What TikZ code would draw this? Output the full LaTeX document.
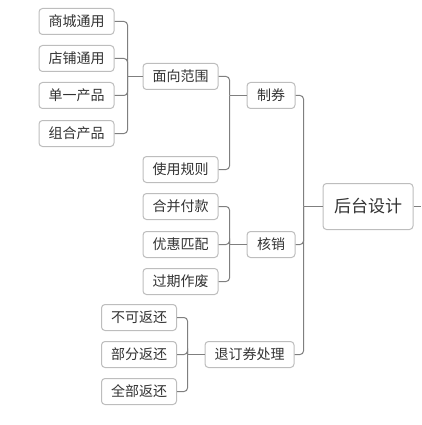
\documentclass[tikz,border=0pt]{standalone}
\usepackage{fontspec}
\setmainfont{Noto Sans CJK SC}
\begin{document}
\begin{tikzpicture}[x=1pt,y=-1pt,
  box/.style={draw=boxgray,line width=1pt,rounded corners=3.5pt,fill=white,text=txt,
    inner sep=0pt,minimum height=26pt,font=\fontsize{14}{15}\selectfont},
  w4/.style={minimum width=75pt},
  conn/.style={draw=linegray,line width=1pt,rounded corners=3.5pt}]
\definecolor{boxgray}{HTML}{BDBDBD}
\definecolor{linegray}{HTML}{7F7F7F}
\definecolor{txt}{HTML}{333333}
\useasboundingbox (0,0) rectangle (421,425);
% nodes
\node[box,w4] (a1) at (76.5,21.5) {商城通用};
\node[box,w4] (a2) at (76.5,58.5) {店铺通用};
\node[box,w4] (a3) at (76.5,95.5) {单一产品};
\node[box,w4] (a4) at (76.5,133.5) {组合产品};
\node[box,w4] (b1) at (180.5,76.5) {面向范围};
\node[box,w4] (b2) at (180.5,169.5) {使用规则};
\node[box,w4] (c1) at (180.5,206.5) {合并付款};
\node[box,w4] (c2) at (180.5,244.5) {优惠匹配};
\node[box,w4] (c3) at (180.5,281.5) {过期作废};
\node[box,w4] (d1) at (139,317.5) {不可返还};
\node[box,w4] (d2) at (139,354.5) {部分返还};
\node[box,w4] (d3) at (139,391.5) {全部返还};
\node[box,minimum width=48pt] (zq) at (271,95.5) {制券};
\node[box,minimum width=48pt] (hx) at (271,244.5) {核销};
\node[box,minimum width=89pt] (td) at (249.5,354.5) {退订券处理};
\node[box,minimum width=90pt,minimum height=46pt,font=\fontsize{17}{19}\selectfont] (root) at (368,206.5) {后台设计};
\coordinate (rootout) at (421,206.5);
% connectors
\foreach \c in {a1,a2,a3,a4}{\path[conn] (\c.east) -| (127.5,76.5);}
\path[conn] (127.5,76.5) -- (b1.west);
\foreach \c in {b1,b2}{\path[conn] (\c.east) -| (229.5,95.5);}
\path[conn] (229.5,95.5) -- (zq.west);
\foreach \c in {c1,c2,c3}{\path[conn] (\c.east) -| (229.5,244.5);}
\path[conn] (229.5,244.5) -- (hx.west);
\foreach \c in {d1,d2,d3}{\path[conn] (\c.east) -| (187.5,354.5);}
\path[conn] (187.5,354.5) -- (td.west);
\foreach \c in {zq,hx,td}{\path[conn] (\c.east) -| (303.5,206.5);}
\path[conn] (303.5,206.5) -- (root.west);
\path[conn] (root.east) -- (rootout);
\end{tikzpicture}
\end{document}
